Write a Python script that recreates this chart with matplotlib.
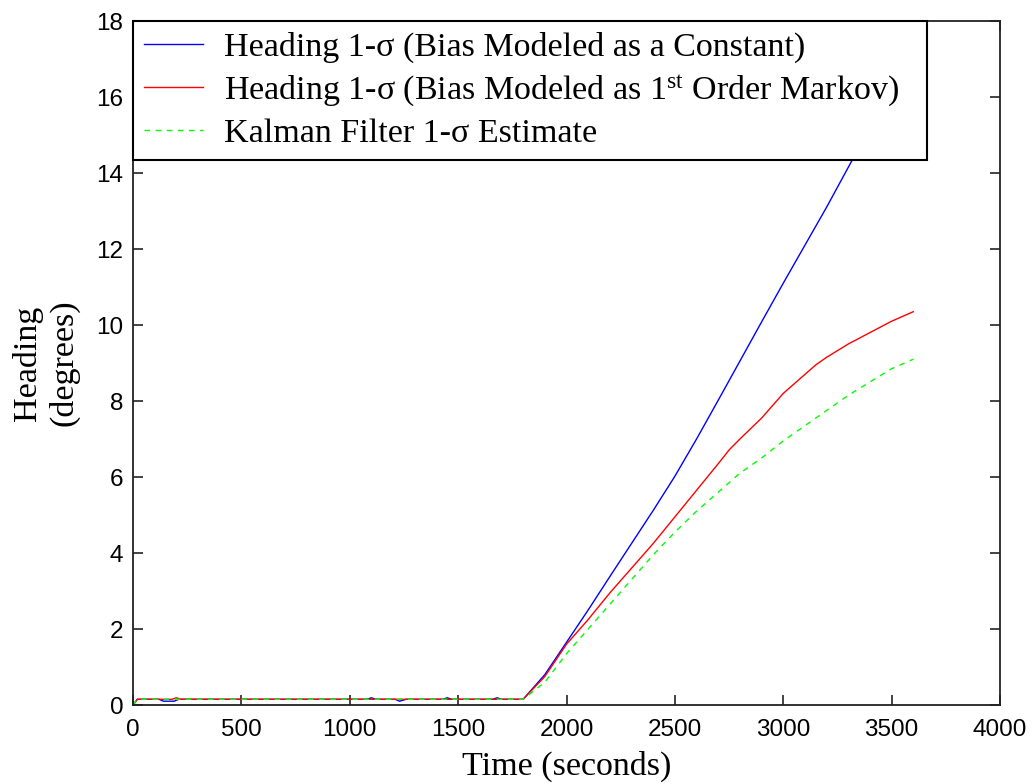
import matplotlib
matplotlib.use("Agg")
import matplotlib.pyplot as plt

plt.rcParams["mathtext.fontset"] = "custom"
plt.rcParams["mathtext.rm"] = "Liberation Serif"
plt.rcParams["mathtext.it"] = "Liberation Serif:italic"

# Heading 1-sigma, bias modeled as a constant
const_t = [0, 20, 120, 140, 190, 210, 1080, 1100, 1120, 1210, 1230, 1260,
           1430, 1450, 1470, 1660, 1680, 1700, 1800, 1900, 2000, 2100, 2200,
           2300, 2400, 2500, 2600, 2700, 2800, 2900, 3000, 3100, 3200, 3300,
           3400, 3500, 3600]
const_v = [0.0, 0.15, 0.15, 0.10, 0.10, 0.15, 0.15, 0.19, 0.15, 0.15, 0.10, 0.15,
           0.15, 0.19, 0.15, 0.15, 0.19, 0.15, 0.15, 0.80, 1.65, 2.50, 3.38,
           4.25, 5.12, 6.02, 7.00, 8.02, 9.05, 10.08, 11.10, 12.10, 13.10, 14.15,
           15.20, 16.20, 17.20]

# Heading 1-sigma, bias modeled as 1st order Markov
markov_t = [0, 20, 180, 200, 220, 1800, 1900, 2000, 2100, 2200, 2300, 2400,
            2500, 2600, 2700, 2750, 2800, 2900, 3000, 3100, 3150, 3200, 3300,
            3400, 3500, 3600]
markov_v = [0.0, 0.15, 0.15, 0.19, 0.15, 0.15, 0.75, 1.60, 2.25, 2.95, 3.60, 4.25,
            4.95, 5.65, 6.35, 6.71, 7.00, 7.55, 8.20, 8.70, 8.95, 9.15, 9.50,
            9.80, 10.10, 10.35]

# Kalman filter 1-sigma estimate
kf_t = [0, 20, 1800, 1900, 2000, 2100, 2200, 2300, 2400, 2500, 2600, 2700,
        2800, 2900, 3000, 3100, 3200, 3300, 3400, 3500, 3600]
kf_v = [0.0, 0.15, 0.15, 0.60, 1.35, 2.00, 2.65, 3.30, 3.95, 4.55, 5.10, 5.60,
        6.10, 6.50, 6.95, 7.35, 7.75, 8.15, 8.50, 8.85, 9.10]

labels = [
    "Heading 1-\u03c3 (Bias Modeled as a Constant)",
    "Heading 1-\u03c3 (Bias Modeled as 1$^{\\rm st}$ Order Markov)",
    "Kalman Filter 1-\u03c3 Estimate",
]
x_ticks = [0, 500, 1000, 1500, 2000, 2500, 3000, 3500, 4000]
y_ticks = [0, 2, 4, 6, 8, 10, 12, 14, 16, 18]

serif = "Liberation Serif"
sans = "Liberation Sans"

fig = plt.figure(figsize=(10.32, 7.84), dpi=100, facecolor="white")
ax = fig.add_axes([133 / 1032, 79 / 784, 867 / 1032, 684 / 784])

ax.plot(const_t, const_v, color="#0000ff", lw=1.0, label=labels[0])
ax.plot(markov_t, markov_v, color="#ff0000", lw=1.0, label=labels[1])
ax.plot(kf_t, kf_v, color="#00ff00", lw=1.0, ls=(0, (4, 4)), label=labels[2])

ax.set_xlim(0, 4000)
ax.set_ylim(0, 18)
ax.set_xticks(x_ticks)
ax.set_yticks(y_ticks)
ax.set_xticklabels([str(v) for v in x_ticks], fontfamily=sans, fontsize=17.5)
ax.set_yticklabels([str(v) for v in y_ticks], fontfamily=sans, fontsize=17.5)
ax.tick_params(direction="in", length=7.5, width=1.1, color="#111111",
               top=True, right=True)
ax.tick_params(axis="x", pad=10)
ax.tick_params(axis="y", pad=7)

for sp in ax.spines.values():
    sp.set_linewidth(1.3)
    sp.set_color("#222222")

ax.set_xlabel("Time (seconds)", fontfamily=serif, fontsize=24.5, labelpad=7)
ax.set_ylabel("Heading\n(degrees)", fontfamily=serif, fontsize=24.5,
              labelpad=12, linespacing=1.2)

# legend box spans from the left spine to about t = 3665
leg = ax.legend(loc="upper left", bbox_to_anchor=(0, 0, 794 / 867, 1),
                mode="expand", borderaxespad=0,
                prop={"family": serif, "size": 24.5}, handlelength=1.75,
                handletextpad=0.6, labelspacing=0.28, borderpad=0.32,
                fancybox=False, framealpha=1.0, edgecolor="black")
leg.get_frame().set_linewidth(1.5)
leg.set_zorder(10)

fig.savefig("out.png", dpi=100, facecolor="white")
